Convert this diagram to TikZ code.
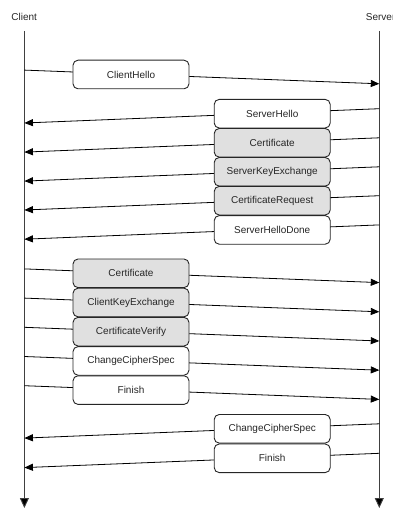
\documentclass[tikz,border=0pt]{standalone}
\usepackage{fontspec}
\setmainfont{Liberation Sans}
\usetikzlibrary{arrows.meta}
\begin{document}
\begin{tikzpicture}[x=1pt,y=-1pt,
  msgbox/.style={draw=black!85, line width=0.9pt, rounded corners=5pt, fill=white,
    minimum width=116pt, minimum height=28.6pt, inner sep=0pt,
    font=\fontsize{10}{12}\selectfont, text=black!85},
  hsbox/.style={msgbox, fill=black!12},
  msg/.style={line width=0.8pt, -{Triangle[length=8.5pt,width=7pt]}},
  life/.style={line width=0.9pt, draw=black!75, -{Triangle[length=10pt,width=9pt,fill=black]}},
  party/.style={font=\fontsize{10}{12}\selectfont, text=black!85, inner sep=0pt},
]
\useasboundingbox (0,0) rectangle (393,508);

% parties and lifelines
\node[party] (client) at (24.2,17) {Client};
\node[party, anchor=west] (server) at (365.7,17) {Server};
\coordinate (ctop) at (24.4,31);
\coordinate (cbot) at (24.4,508);
\coordinate (stop) at (379.3,31);
\coordinate (sbot) at (379.3,508);
\draw[life] (ctop) -- (cbot);
\draw[life] (stop) -- (sbot);

% client -> server messages
\foreach \n/\y in {ch/74.5, cc/273.3, ck/302.5, cv/331.7, cs/360.9, cf/390.1} {
  \coordinate (a\n) at (24.4,\y-4.4);
  \coordinate (b\n) at (379.3,\y+9.3);
  \draw[msg] (a\n) -- (b\n);
}
% server -> client messages
\foreach \n/\y in {sh/113.7, sc/142.8, sk/171.8, sr/200.7, sd/229.9, ss/428.8, sf/458.3} {
  \coordinate (b\n) at (379.3,\y-5);
  \coordinate (a\n) at (24.4,\y+9.3);
  \draw[msg] (b\n) -- (a\n);
}

% message boxes
\foreach \n/\y/\t/\st in {ch/74.5/ClientHello/msgbox, cc/273.3/Certificate/hsbox,
    ck/302.5/ClientKeyExchange/hsbox, cv/331.7/CertificateVerify/hsbox,
    cs/360.9/ChangeCipherSpec/msgbox, cf/390.1/Finish/msgbox} {
  \node[\st] (m\n) at (131,\y) {\t};
}
\foreach \n/\y/\t/\st in {sh/113.7/ServerHello/msgbox, sc/142.8/Certificate/hsbox,
    sk/171.8/ServerKeyExchange/hsbox, sr/200.7/CertificateRequest/hsbox,
    sd/229.9/ServerHelloDone/msgbox, ss/428.8/ChangeCipherSpec/msgbox,
    sf/458.3/Finish/msgbox} {
  \node[\st] (m\n) at (272.2,\y) {\t};
}
\end{tikzpicture}
\end{document}
